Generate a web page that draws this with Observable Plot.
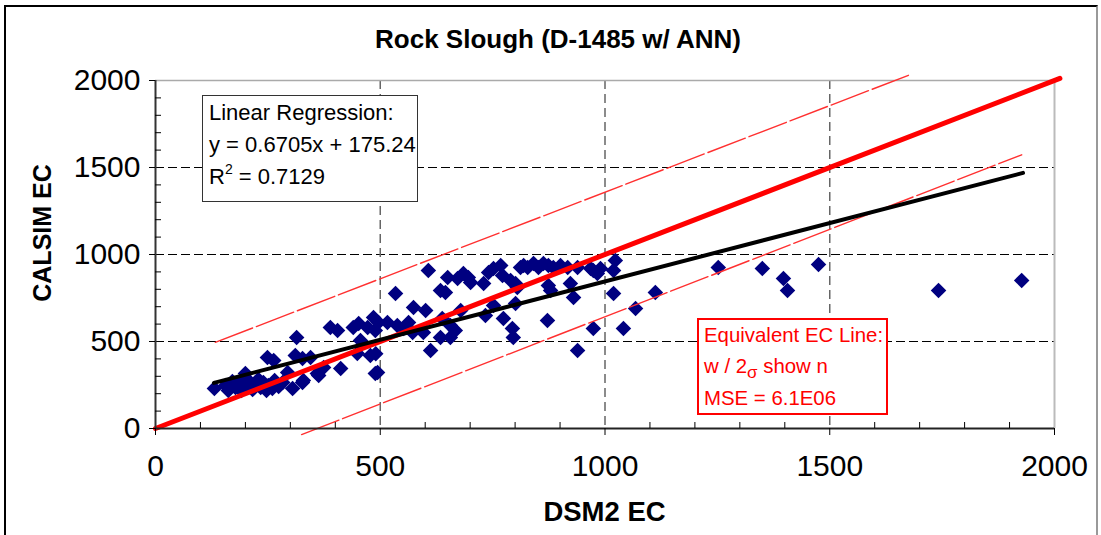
<!DOCTYPE html>
<html><head><meta charset="utf-8">
<script src="https://cdn.jsdelivr.net/npm/d3@7"></script>
<script src="https://cdn.jsdelivr.net/npm/@observablehq/plot@0.6"></script>
<style>
body{margin:0;background:#fff;overflow:hidden;font-family:"Liberation Sans",Arial,sans-serif;}
#wrap{position:relative;width:1101px;height:535px;overflow:hidden;}
#frame{position:absolute;left:4px;top:5px;width:1090px;height:600px;border:2px solid #000;border-right-color:#999;}
#chart{position:absolute;left:0;top:0;}
.title{position:absolute;top:24px;left:0;width:1116px;text-align:center;font-weight:bold;font-size:26px;}
.xlab{position:absolute;top:496px;left:155px;width:899px;text-align:center;font-weight:bold;font-size:27.5px;}
.ylab{position:absolute;left:42px;top:233px;transform:translate(-50%,-50%) rotate(-90deg);white-space:nowrap;font-weight:bold;font-size:25px;}
.box1{position:absolute;left:202px;top:95px;height:107px;width:216px;border:1px solid #333;background:#fff;font-size:22px;line-height:32px;padding-left:6px;padding-top:1px;box-sizing:border-box;white-space:nowrap;}
.box2{position:absolute;left:697px;top:318px;width:191px;height:97px;border:2px solid #f00;background:#fff;color:#f00;font-size:20.4px;line-height:31px;padding-left:5px;box-sizing:border-box;white-space:nowrap;}
.sig{font-size:17px;position:relative;top:5px;}
sup{font-size:14px;vertical-align:10px;line-height:0;}
</style></head>
<body>
<div id="wrap">
<div id="frame"></div>
<div id="chart"></div>
<div class="title">Rock Slough (D-1485 w/ ANN)</div>
<div class="xlab">DSM2 EC</div>
<div class="ylab">CALSIM EC</div>
<div class="box1">Linear Regression:<br>y = 0.6705x + 175.24<br>R<sup>2</sup> = 0.7129</div>
<div class="box2">Equivalent EC Line:<br>w / 2<span class="sig">σ</span> show n<br>MSE = 6.1E06</div>
</div>
<script>
// DSM2 EC (x) and CALSIM EC (y) values
const dsm2 = [131,156,162,171,178,185,191,198,202,209,216,222,229,234,240,247,251,260,265,274,283,305,327,200,249,263,294,311,314,327,345,360,374,363,389,405,412,440,452,472,449,478,489,456,485,494,516,538,552,563,572,490,534,574,601,607,612,634,645,638,656,667,634,656,650,672,685,696,701,679,730,741,752,768,772,790,801,805,812,819,828,841,852,863,874,885,901,917,939,968,983,874,879,923,930,734,752,801,774,794,796,872,939,974,974,990,1023,1019,1019,1112,1068,1041,1252,1350,1397,1406,1475,1742,1927,329,496,489,596];
const calsim = [230,247,218,270,236,259,218,287,241,270,224,253,282,236,264,218,247,230,276,241,264,230,264,316,408,391,322,420,523,402,408,316,351,305,580,563,345,580,603,580,431,420,316,506,638,322,609,592,575,609,552,430,776,695,678,908,448,793,782,632,592,563,523,523,868,862,891,868,839,678,833,897,920,937,879,851,833,810,925,937,925,948,925,948,937,925,937,925,925,920,891,822,793,833,753,649,707,718,632,575,523,621,448,575,908,920,965,908,776,782,690,575,925,920,862,793,943,793,851,276,609,563,552];

// Lines
const eqX = [0, 2012], eqY = [0, 2012];               // equivalent EC line (1:1)
const upX = [133, 1675], upY = [495, 2030];           // +2 sigma
const loX = [325, 1927], loY = [-35, 1573];           // -2 sigma
const regX = [130, 1930], regY = [262, 1469];         // y = 0.6705x + 175.24

// Ticks
const majorTicks = [0, 500, 1000, 1500, 2000];
const minorTicks = [100,200,300,400,600,700,800,900,1100,1200,1300,1400,1600,1700,1800,1900];
const gridVals = [500, 1000, 1500];

const pts = dsm2.map((x, i) => ({x, y: calsim[i]}));
const seg = (xs, ys) => xs.map((x, i) => ({x, y: ys[i]}));

const chart = Plot.plot({
  width: 1101, height: 535,
  marginLeft: 155, marginRight: 47, marginTop: 80, marginBottom: 107,
  x: {domain: [0, 2000]},
  y: {domain: [0, 2000]},
  style: {fontFamily: "Liberation Sans, Arial, sans-serif", fontSize: "30px", background: "transparent", overflow: "visible"},
  marks: [
    Plot.ruleY(gridVals, {stroke: "#000", strokeDasharray: "9,4", strokeWidth: 1}),
    Plot.ruleX(gridVals, {stroke: "#666", strokeDasharray: "9,5", strokeWidth: 1.5}),
    Plot.ruleY([2000], {stroke: "#aaa", strokeWidth: 1.5}),
    Plot.ruleX([2000], {stroke: "#bbb", strokeWidth: 2}),
    Plot.dot(pts, {x: "x", y: "y", symbol: "diamond2", r: 7, fill: "#000080"}),
    Plot.line(seg(upX, upY), {x: "x", y: "y", stroke: "#ff3030", strokeWidth: 1.4, strokeDasharray: "40,4"}),
    Plot.line(seg(loX, loY), {x: "x", y: "y", stroke: "#ff3030", strokeWidth: 1.4, strokeDasharray: "40,4"}),
    Plot.line(seg(eqX, eqY), {x: "x", y: "y", stroke: "#ff0000", strokeWidth: 5}),
    Plot.line(seg(regX, regY), {x: "x", y: "y", stroke: "#000", strokeWidth: 4}),
    Plot.ruleX([0], {stroke: "#333", strokeWidth: 2}),
    Plot.ruleY([0], {stroke: "#222", strokeWidth: 2}),
    Plot.axisX({ticks: majorTicks, tickFormat: "d", tickSize: 7, tickPadding: 19, label: null, fontSize: 30}),
    Plot.axisX({ticks: minorTicks, tickSize: -6, text: null, label: null}),
    Plot.axisY({ticks: majorTicks, tickFormat: "d", tickSize: 6, tickPadding: 9, label: null, fontSize: 30}),
    Plot.axisY({ticks: minorTicks, tickSize: -6, text: null, label: null})
  ]
});
document.getElementById("chart").appendChild(chart);
</script>
</body></html>
